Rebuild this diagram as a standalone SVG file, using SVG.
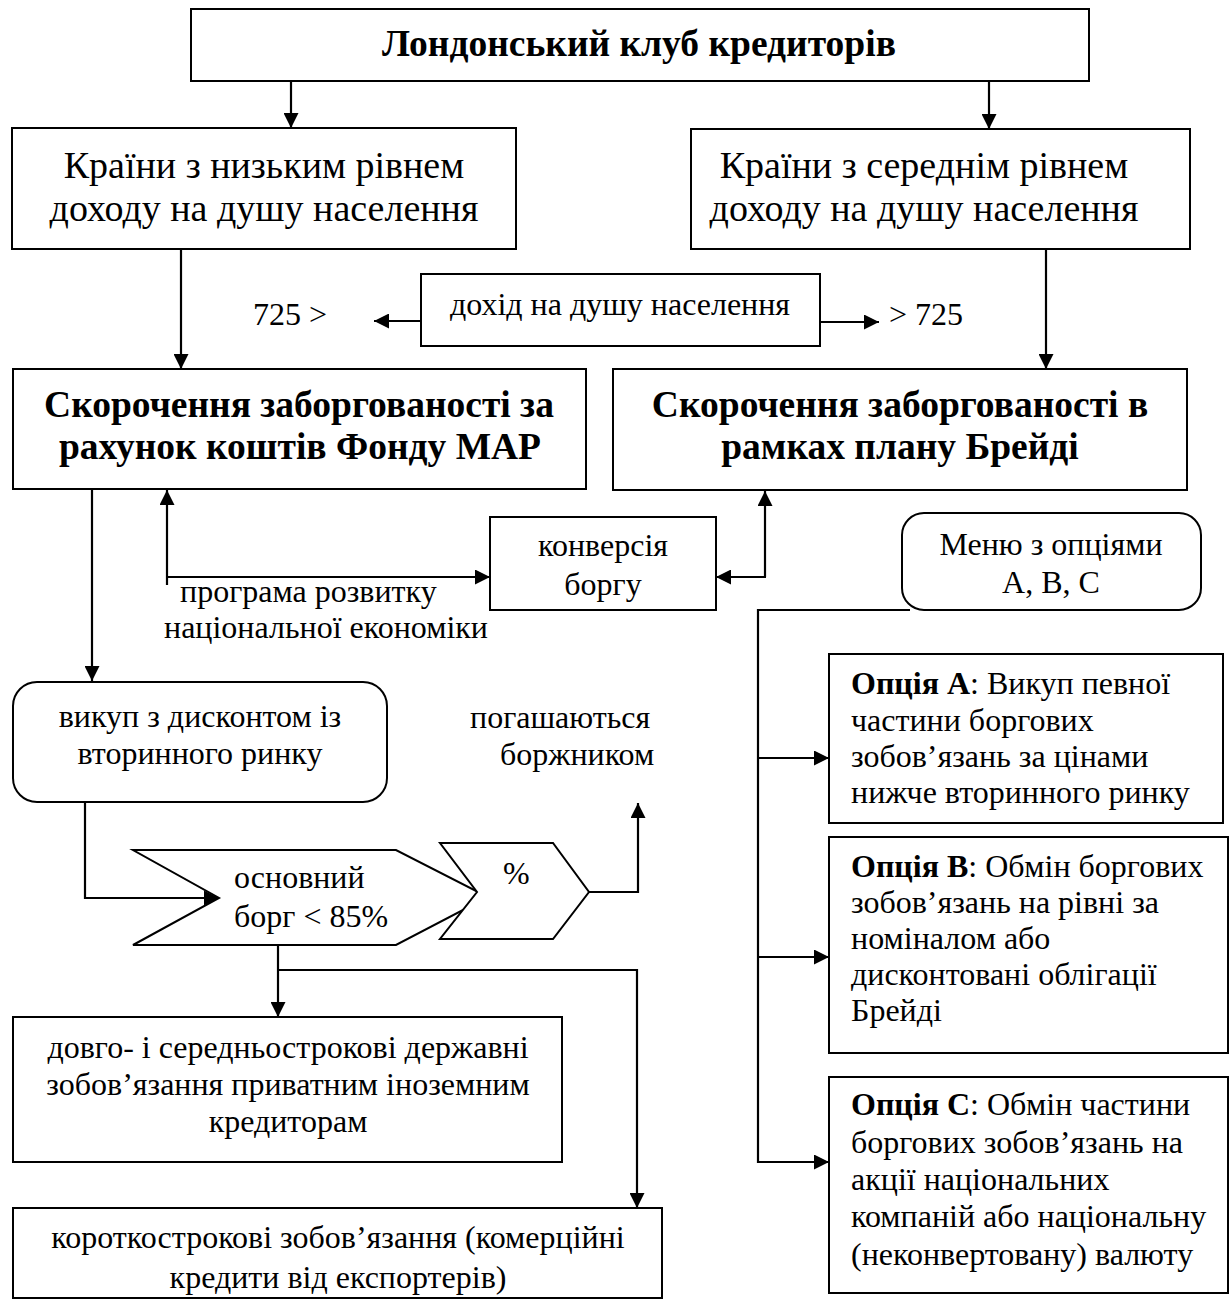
<svg xmlns="http://www.w3.org/2000/svg" width="1230" height="1302" viewBox="0 0 1230 1302">
<style>
text{font-family:"Liberation Serif","Times New Roman",serif;fill:#000}
.big{font-size:38px}
.bold{font-size:37.5px;font-weight:bold}
.sm{font-size:32px}
.c{text-anchor:middle}
.box{fill:#fff;stroke:#000;stroke-width:2}
.ln{fill:none;stroke:#000;stroke-width:2.2;marker-end:url(#ah)}
.b{font-weight:bold}
</style>
<defs>
<marker id="ah" viewBox="0 0 15 15" refX="15" refY="7.5" markerWidth="15" markerHeight="15" markerUnits="userSpaceOnUse" orient="auto">
<path d="M0,0 L15,7.5 L0,15 z" fill="#000"/>
</marker>
</defs>
<rect width="1230" height="1302" fill="#fff"/>

<g id="connectors">
<path class="ln" d="M291,81 V128"/>
<path class="ln" d="M989,81 V129"/>
<path class="ln" d="M181,249 V369"/>
<path class="ln" d="M1046,249 V369"/>
<path class="ln" d="M421,321 H374"/>
<path class="ln" d="M820,322 H879"/>
<path class="ln" d="M167,585 V490"/>
<path class="ln" d="M167,577 H490"/>
<path class="ln" d="M765,577 V491"/>
<path class="ln" d="M766,577 H716"/>
<path class="ln" d="M92,489 V681"/>
<path class="ln" d="M85,802 V898 H219"/>
<path class="ln" d="M589,892 H638 V803"/>
<path class="ln" d="M278,945 V1017"/>
<path class="ln" d="M278,970 H637 V1208"/>
<path class="ln" d="M910,610 H758 V1162 H829"/>
<path class="ln" d="M758,758 H829"/>
<path class="ln" d="M758,957 H829"/>
</g>

<g id="london">
<rect class="box" x="191" y="9" width="898" height="72"/>
<text class="bold c" x="639" y="56">Лондонський клуб кредиторів</text>
</g>

<g id="low-income">
<rect class="box" x="12" y="128" width="504" height="121"/>
<text class="big c" x="264" y="178">Країни з низьким рівнем</text>
<text class="big c" x="264" y="221">доходу на душу населення</text>
</g>

<g id="mid-income">
<rect class="box" x="691" y="129" width="499" height="120"/>
<text class="big c" x="924" y="178">Країни з середнім рівнем</text>
<text class="big c" x="924" y="221">доходу на душу населення</text>
</g>

<g id="income">
<rect class="box" x="421" y="274" width="399" height="72"/>
<text class="sm c" x="620" y="315">дохід на душу населення</text>
</g>
<g id="lbl-less">
<text class="sm" x="253" y="325">725 &gt;</text>
</g>
<g id="lbl-more">
<text class="sm" x="889" y="325">&gt; 725</text>
</g>

<g id="map">
<rect class="box" x="13" y="369" width="573" height="120"/>
<text class="bold c" x="299" y="417">Скорочення заборгованості за</text>
<text class="bold c" x="300" y="459">рахунок коштів Фонду МАР</text>
</g>

<g id="brady">
<rect class="box" x="613" y="369" width="574" height="121"/>
<text class="bold c" x="900" y="417">Скорочення заборгованості в</text>
<text class="bold c" x="900" y="459">рамках плану Брейді</text>
</g>

<g id="conversion">
<rect class="box" x="490" y="517" width="226" height="93"/>
<text class="sm c" x="603" y="556">конверсія</text>
<text class="sm c" x="603" y="595">боргу</text>
</g>

<g id="lbl-program">
<text class="sm" x="180" y="602">програма розвитку</text>
<text class="sm" x="164" y="638">національної економіки</text>
</g>

<g id="menu">
<rect class="box" x="902" y="513" width="299" height="97" rx="22" ry="22"/>
<text class="sm c" x="1051" y="555">Меню з опціями</text>
<text class="sm c" x="1051" y="593">А, В, С</text>
</g>

<g id="buyback">
<rect class="box" x="13" y="682" width="374" height="120" rx="24" ry="24"/>
<text class="sm c" x="200" y="727">викуп з дисконтом із</text>
<text class="sm c" x="200" y="764">вторинного ринку</text>
</g>

<g id="lbl-repaid">
<text class="sm" x="470" y="728">погашаються</text>
<text class="sm" x="500" y="765">боржником</text>
</g>

<g id="principal">
<polygon class="box" points="133,850 396,850 488,897 396,945 133,945 219,898"/>
<text class="sm" x="234" y="888">основний</text>
<text class="sm" x="234" y="927">борг &lt; 85%</text>
</g>

<g id="interest">
<polygon class="box" points="440,843 553,843 589,892 553,939 440,939 477,892"/>
<text class="sm" x="503" y="884">%</text>
</g>

<g id="long-term">
<rect class="box" x="13" y="1017" width="549" height="145"/>
<text class="sm c" x="288" y="1058">довго- і середньострокові державні</text>
<text class="sm c" x="288" y="1095">зобов’язання приватним іноземним</text>
<text class="sm c" x="288" y="1132">кредиторам</text>
</g>

<g id="short-term">
<rect class="box" x="13" y="1208" width="649" height="90"/>
<text class="sm c" x="338" y="1248">короткострокові зобов’язання (комерційні</text>
<text class="sm c" x="338" y="1288">кредити від експортерів)</text>
</g>

<g id="option-a">
<rect class="box" x="829" y="654" width="394" height="169"/>
<text class="sm" x="851" y="694"><tspan class="b">Опція А</tspan>: Викуп певної</text>
<text class="sm" x="851" y="731">частини боргових</text>
<text class="sm" x="851" y="767">зобов’язань за цінами</text>
<text class="sm" x="851" y="803">нижче вторинного ринку</text>
</g>

<g id="option-b">
<rect class="box" x="829" y="837" width="399" height="216"/>
<text class="sm" x="851" y="877"><tspan class="b">Опція В</tspan>: Обмін боргових</text>
<text class="sm" x="851" y="913">зобов’язань на рівні за</text>
<text class="sm" x="851" y="949">номіналом або</text>
<text class="sm" x="851" y="985">дисконтовані облігації</text>
<text class="sm" x="851" y="1021">Брейді</text>
</g>

<g id="option-c">
<rect class="box" x="829" y="1077" width="399" height="216"/>
<text class="sm" x="851" y="1115"><tspan class="b">Опція С</tspan>: Обмін частини</text>
<text class="sm" x="851" y="1153">боргових зобов’язань на</text>
<text class="sm" x="851" y="1190">акції національних</text>
<text class="sm" x="851" y="1227">компаній або національну</text>
<text class="sm" x="851" y="1265">(неконвертовану) валюту</text>
</g>
</svg>
